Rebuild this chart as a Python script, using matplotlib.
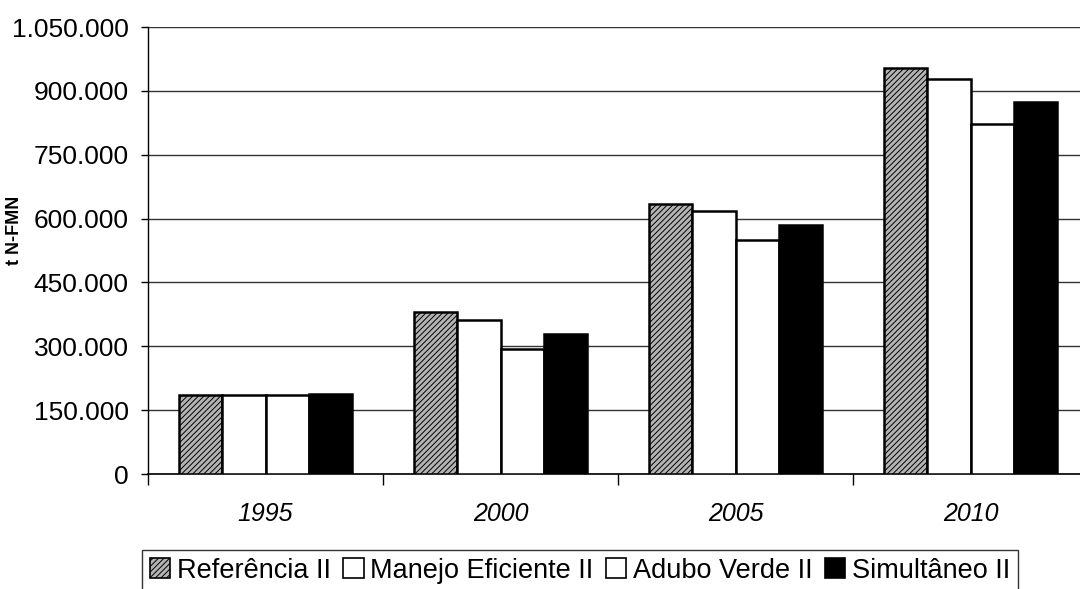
import matplotlib
matplotlib.use("Agg")
import matplotlib.pyplot as plt
import numpy as np
from matplotlib.ticker import FuncFormatter
from matplotlib.patches import Patch

plt.rcParams['font.family'] = ['Liberation Sans', 'DejaVu Sans']
plt.rcParams['hatch.linewidth'] = 0.7

years = ['1995', '2000', '2005', '2010']
series = ['Referência II', 'Manejo Eficiente II', 'Adubo Verde II', 'Simultâneo II']
referencia = [186000, 380000, 634000, 954000]
manejo = [186000, 362000, 618000, 927000]
adubo = [186000, 294000, 550000, 821000]
simultaneo = [187000, 330000, 584000, 874000]
yticks = [0, 150000, 300000, 450000, 600000, 750000, 900000, 1050000]

fig = plt.figure(figsize=(10.8, 5.89), dpi=100)
ax = fig.add_axes([148/1080, (589-474)/589, 940/1080, (474-27)/589])

x = np.arange(len(years))
w = 0.184
styles = [
    dict(facecolor='#b4b4b4', hatch='//////', edgecolor='black'),
    dict(facecolor='white', edgecolor='black'),
    dict(facecolor='white', edgecolor='black'),
    dict(facecolor='black', edgecolor='black'),
]
data = [referencia, manejo, adubo, simultaneo]
for i, (vals, st) in enumerate(zip(data, styles)):
    ax.bar(x + (i - 1.5) * w, vals, width=w, linewidth=1.8, zorder=3, **st)

ax.set_xlim(-0.5, len(years) - 0.5)
ax.set_ylim(0, 1050000)
ax.set_yticks(yticks)
ax.yaxis.set_major_formatter(FuncFormatter(lambda v, p: f"{int(v):,}".replace(',', '.')))
ax.set_xticks(x)
ax.set_xticklabels(years, fontstyle='italic', fontsize=18)
ax.set_xticks(np.arange(len(years) + 1) - 0.5, minor=True)
ax.tick_params(axis='x', which='major', length=0, pad=20)
ax.tick_params(axis='x', which='minor', length=8, width=1, direction='out')
ax.tick_params(axis='y', labelsize=19, length=5, width=1, direction='out', pad=9)
ax.grid(axis='y', color='#333333', linewidth=1, zorder=0)
for s in ['top', 'right']:
    ax.spines[s].set_visible(False)
ax.spines['left'].set_linewidth(1)
ax.spines['bottom'].set_linewidth(1.2)
ax.set_ylabel('t N-FMN', fontsize=13, fontweight='bold')
ax.yaxis.set_label_coords(-0.133, 0.546)

handles = [Patch(linewidth=1.2, **st) for st in styles]
leg = fig.legend(handles, series, loc='lower center', bbox_to_anchor=(0.537, -0.005),
                 ncol=4, fontsize=19.5, frameon=True, fancybox=False,
                 handlelength=0.75, handleheight=0.75, handletextpad=0.25,
                 columnspacing=0.45, borderpad=0.3, borderaxespad=0)
leg.get_frame().set_edgecolor('black')
leg.get_frame().set_linewidth(1)

fig.savefig('out.png', dpi=100)
